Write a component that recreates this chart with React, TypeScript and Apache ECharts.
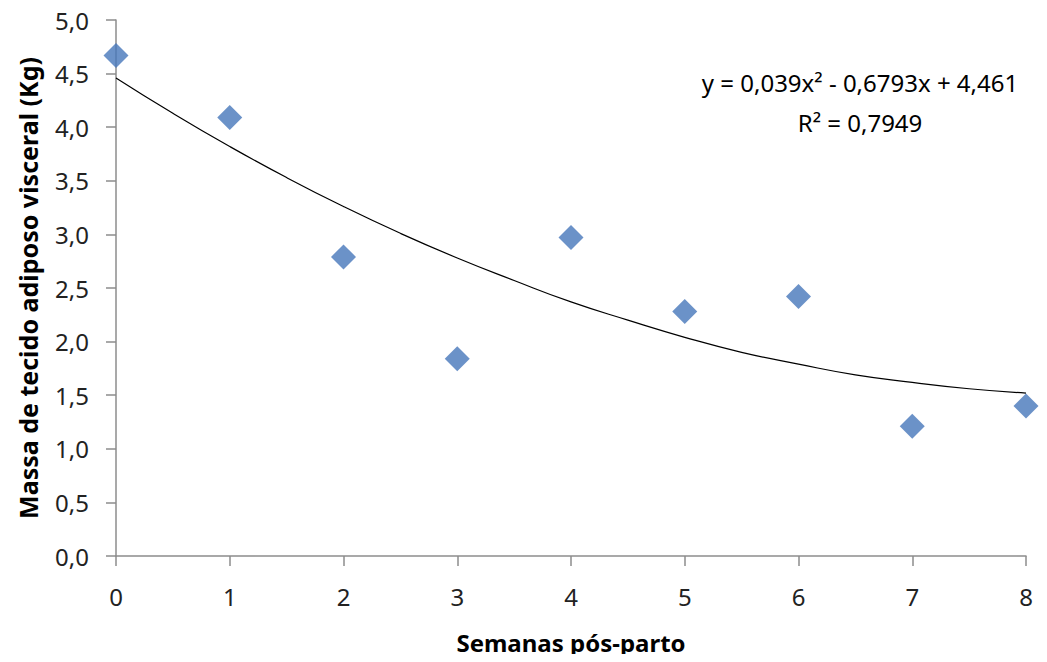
import React, { useEffect, useRef } from "react";
import * as echarts from "echarts";

const weeks = [0, 1, 2, 3, 4, 5, 6, 7, 8];
const massValues = [4.67, 4.09, 2.79, 1.84, 2.97, 2.28, 2.42, 1.21, 1.4];
const trendX = [0, 0.5, 1, 1.5, 2, 2.5, 3, 3.5, 4, 4.5, 5, 5.5, 6, 6.5, 7, 7.5, 8];
const trendValues = [4.46, 4.13, 3.82, 3.53, 3.26, 3.01, 2.78, 2.57, 2.37, 2.20, 2.04, 1.90, 1.79, 1.69, 1.62, 1.56, 1.52];
const equationLines = ["y = 0,039x² - 0,6793x + 4,461", "R² = 0,7949"];
const xTitle = "Semanas pós-parto";
const yTitle = "Massa de tecido adiposo visceral (Kg)";

const FONT = "'Noto Sans', sans-serif";

export default function App() {
  const ref = useRef<HTMLDivElement>(null);
  useEffect(() => {
    if (!ref.current) return;
    const chart = echarts.init(ref.current, undefined, { renderer: "svg" });
    const axisColor = "#8c8c8c";
    chart.setOption({
      animation: false,
      backgroundColor: "#ffffff",
      grid: { left: 116, right: 21, top: 20, bottom: 106, containLabel: false },
      xAxis: {
        type: "value",
        min: 0,
        max: 8,
        interval: 1,
        name: xTitle,
        nameLocation: "middle",
        nameGap: 74,
        nameTextStyle: { fontFamily: FONT, fontSize: 24, fontWeight: "bold", color: "#000" },
        axisLine: { show: true, lineStyle: { color: axisColor, width: 1.5 } },
        axisTick: { show: true, length: 10, lineStyle: { color: axisColor, width: 1.5 } },
        splitLine: { show: false },
        axisLabel: { fontFamily: FONT, fontSize: 24, color: "#222", margin: 28 },
      },
      yAxis: {
        type: "value",
        min: 0,
        max: 5,
        interval: 0.5,
        name: yTitle,
        nameLocation: "middle",
        nameGap: 76,
        nameTextStyle: { fontFamily: FONT, fontSize: 25, fontWeight: "bold", color: "#000" },
        axisLine: { show: true, lineStyle: { color: axisColor, width: 1.5 } },
        axisTick: { show: true, length: 10, lineStyle: { color: axisColor, width: 1.5 } },
        splitLine: { show: false },
        axisLabel: {
          fontFamily: FONT,
          fontSize: 24,
          color: "#222",
          margin: 27,
          formatter: (v: number) => v.toFixed(1).replace(".", ","),
        },
      },
      series: [
        {
          type: "line",
          data: trendX.map((x, i) => [x, trendValues[i]]),
          smooth: true,
          showSymbol: false,
          symbol: "none",
          lineStyle: { color: "#000", width: 1.2 },
          z: 1,
        },
        {
          type: "scatter",
          data: weeks.map((w, i) => [w, massValues[i]]),
          symbol: "diamond",
          symbolSize: 25,
          itemStyle: { color: "#4677BA" },
          z: 2,
        },
      ],
      graphic: equationLines.map((t, i) => ({
        type: "text",
        x: 860,
        y: 82 + i * 40,
        style: {
          text: t,
          fontFamily: FONT,
          fontSize: 24,
          fill: "#000",
          textAlign: "center",
          textVerticalAlign: "middle",
        },
      })),
    });
    return () => chart.dispose();
  }, []);
  return <div ref={ref} style={{ width: 1047, height: 662, margin: -8 }} />;
}
